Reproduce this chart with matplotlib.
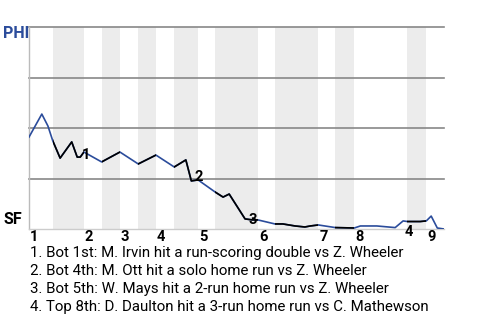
import matplotlib
matplotlib.use("Agg")
import matplotlib.pyplot as plt

plt.rcParams['font.family'] = ['Roboto', 'DejaVu Sans']

# play index along the game, PHI win probability (%) after each play
plays = [0, 2.1, 3.1, 3.9, 5.1, 7.0, 7.9, 8.4, 9.0, 11.9, 14.9, 17.9, 20.8,
         23.8, 25.7, 26.6, 27.7, 30.5, 31.8, 32.8, 35.4, 36.6, 37.5, 40.3,
         41.6, 43.6, 45.2, 46.1, 47.4, 50.2, 53.3, 54.3, 57.0, 60.0, 61.3,
         62.0, 64.1, 65.1, 65.9, 66.9, 68.0]
phi_wp = [45.5, 56.9, 51.0, 43.6, 35.1, 43.1, 35.6, 35.6, 38.1, 33.2, 38.1,
          32.2, 36.6, 30.7, 34.2, 23.8, 24.3, 18.3, 15.8, 17.3, 5.0, 4.5,
          4.5, 2.5, 2.5, 1.5, 1.0, 1.5, 2.0, 0.7, 0.5, 1.5, 1.5, 0.7, 4.0,
          3.7, 3.7, 4.0, 6.4, 0.5, 0.0]

# start of each half inning (top 1st, bot 1st, top 2nd, ...)
half_starts = [0, 3.9, 9.0, 11.9, 14.9, 17.9, 20.8, 23.8, 27.7, 30.5, 37.5,
               40.3, 47.4, 50.2, 53.3, 62.0, 65.1]
game_end = 68.0
innings = ['1', '2', '3', '4', '5', '6', '7', '8', '9']

# key plays: index into plays
event_idx = [6, 15, 20, 34]
event_text = [
    "1. Bot 1st: M. Irvin hit a run-scoring double vs Z. Wheeler",
    "2. Bot 4th: M. Ott hit a solo home run vs Z. Wheeler",
    "3. Bot 5th: W. Mays hit a 2-run home run vs Z. Wheeler",
    "4. Top 8th: D. Daulton hit a 3-run home run vs C. Mathewson",
]

blue = '#2b4c9b'
p = [v / 100 for v in phi_wp]

fig = plt.figure(figsize=(4.8, 3.2), dpi=100)
ax = fig.add_axes([29/480, 1 - 229/320, 415/480, 202/320])

ends = half_starts[1:] + [game_end]
bottom_spans = []
for i, (a, b) in enumerate(zip(half_starts, ends)):
    if i % 2 == 1:
        bottom_spans.append(ax.axvspan(a, b, color='#ececec', lw=0, zorder=0))

for y in [0.25, 0.5, 0.75, 1.0]:
    ax.axhline(y, color='#888888', lw=1.2, zorder=1, clip_on=False)

ax.plot(plays, p, color=blue, lw=1.2, zorder=3)
for span in bottom_spans:
    ln, = ax.plot(plays, p, color='black', lw=1.2, zorder=4)
    ln.set_clip_path(span)

offsets = [(3.2, 1.2), (2.6, 2.8), (2.6, -0.7), (1.0, -8.0)]
for k, (i, off) in enumerate(zip(event_idx, offsets)):
    ax.annotate(str(k + 1), (plays[i], p[i]), xytext=off,
                textcoords='offset points', ha='left', va='center',
                fontsize=10.5, fontweight='bold', color='black', zorder=5,
                annotation_clip=False)

for lab, x in zip(innings, half_starts[::2]):
    ax.text(x + 0.15, -0.04, lab, ha='left', va='center', fontsize=10.5,
            fontweight='bold', color='black', transform=ax.transData)

ax.set_xlim(0, game_end)
ax.set_ylim(0, 1)
ax.set_xticks([])
ax.set_yticks([])
for s in ['top', 'right']:
    ax.spines[s].set_visible(False)
ax.spines['left'].set_color('#bbbbbb')
ax.spines['bottom'].set_color('#cccccc')
ax.spines['left'].set_linewidth(1)
ax.spines['bottom'].set_linewidth(1)

fig.text(3/480, 1 - 33/320, 'PHI', color=blue, fontsize=11.5,
         fontweight='bold', va='center', ha='left')
fig.text(3/480, 1 - 219/320, 'SF', color='black', fontsize=11.5,
         fontweight='bold', va='center', ha='left')

for k, t in enumerate(event_text):
    fig.text(30/480, 1 - (253 + 18 * k)/320, t, fontsize=10.8, va='center',
             ha='left', color='black')

fig.savefig('out.png', dpi=100)
